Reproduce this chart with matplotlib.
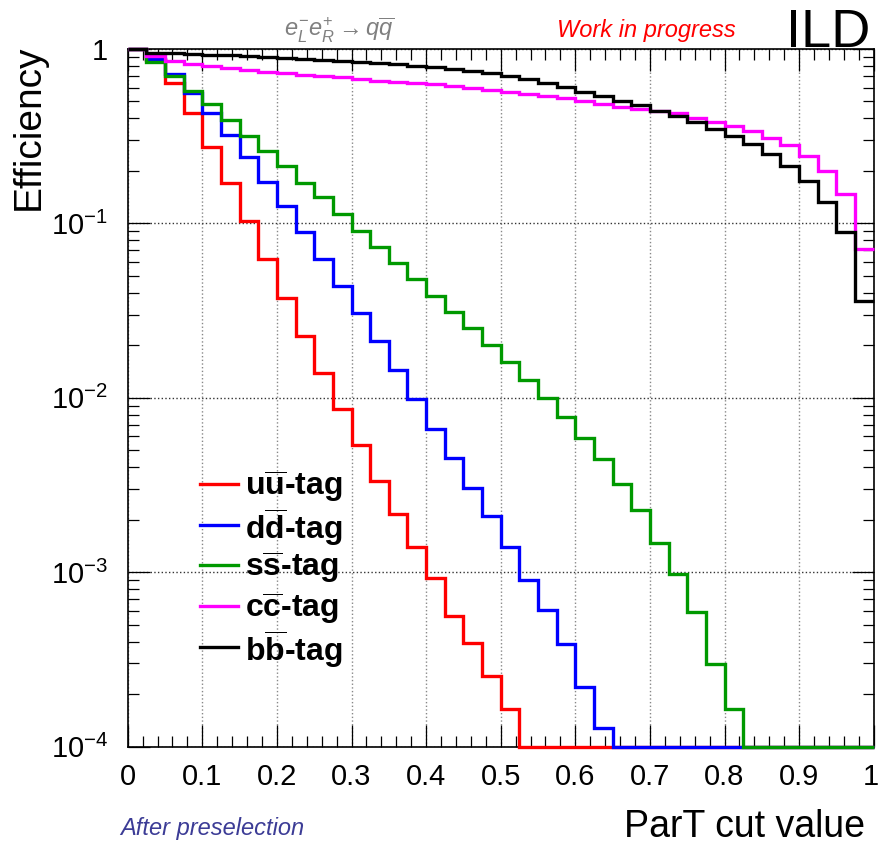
import numpy as np
import matplotlib
matplotlib.use("Agg")
import matplotlib.pyplot as plt
import matplotlib.transforms as mtransforms
from matplotlib.lines import Line2D
from matplotlib.ticker import FixedLocator, FixedFormatter, MultipleLocator, NullFormatter

plt.rcParams['font.family'] = ['Liberation Sans', 'DejaVu Sans']
plt.rcParams['mathtext.fontset'] = 'custom'
plt.rcParams['mathtext.rm'] = 'Liberation Sans'
plt.rcParams['mathtext.it'] = 'Liberation Sans:italic'
plt.rcParams['mathtext.bf'] = 'Liberation Sans:bold'

# bin edges of the ParT cut value (0 .. 1, 40 bins)
edges = np.linspace(0.0, 1.0, 41)

eff_u = [1.0, 0.87, 0.636, 0.428, 0.273, 0.170, 0.1035, 0.0625, 0.0375, 0.0226,
         0.0139, 0.0086, 0.00536, 0.00333, 0.00215, 0.0014, 9.2e-4, 5.63e-4, 3.9e-4, 2.54e-4,
         1.64e-4, 0, 0, 0, 0, 0, 0, 0, 0, 0,
         0, 0, 0, 0, 0, 0, 0, 0, 0, 0]
eff_d = [1.0, 0.876, 0.716, 0.557, 0.431, 0.320, 0.239, 0.173, 0.126, 0.0895,
         0.0625, 0.0438, 0.0308, 0.0211, 0.0144, 0.00984, 0.00665, 0.00454, 0.00305, 0.00211,
         0.00139, 9.06e-4, 6.04e-4, 3.86e-4, 2.19e-4, 1.27e-4, 0, 0, 0, 0,
         0, 0, 0, 0, 0, 0, 0, 0, 0, 0]
eff_s = [1.0, 0.839, 0.700, 0.577, 0.482, 0.392, 0.318, 0.260, 0.212, 0.170,
         0.141, 0.113, 0.0907, 0.0734, 0.0595, 0.0478, 0.0384, 0.0312, 0.0252, 0.0200,
         0.0161, 0.01265, 0.00993, 0.00773, 0.00586, 0.00448, 0.00319, 0.00228, 0.00147, 9.77e-4,
         5.89e-4, 2.98e-4, 1.64e-4, 0, 0, 0, 0, 0, 0, 0]
eff_c = [1.0, 0.915, 0.853, 0.820, 0.799, 0.778, 0.758, 0.738, 0.726, 0.712,
         0.700, 0.688, 0.670, 0.658, 0.649, 0.636, 0.627, 0.613, 0.600, 0.582,
         0.569, 0.552, 0.540, 0.526, 0.505, 0.484, 0.463, 0.455, 0.443, 0.428,
         0.404, 0.383, 0.362, 0.340, 0.308, 0.281, 0.244, 0.200, 0.147, 0.0713]
eff_b = [1.0, 0.952, 0.944, 0.936, 0.928, 0.920, 0.912, 0.900, 0.892, 0.880,
         0.870, 0.858, 0.842, 0.828, 0.817, 0.803, 0.785, 0.768, 0.748, 0.726,
         0.700, 0.670, 0.636, 0.603, 0.569, 0.540, 0.503, 0.477, 0.443, 0.413,
         0.383, 0.348, 0.317, 0.284, 0.249, 0.213, 0.175, 0.133, 0.0895, 0.036]

labels = [r'$\mathbf{u\overline{u}}$-tag', r'$\mathbf{d\overline{d}}$-tag',
          r'$\mathbf{s\overline{s}}$-tag', r'$\mathbf{c\overline{c}}$-tag',
          r'$\mathbf{b\overline{b}}$-tag']
colors = ['#ff0000', '#0000ff', '#009900', '#ff00ff', '#000000']
series = [eff_u, eff_d, eff_s, eff_c, eff_b]
xticks = ['0', '0.1', '0.2', '0.3', '0.4', '0.5', '0.6', '0.7', '0.8', '0.9', '1']
yticks = [r'$10^{-4}$', r'$10^{-3}$', r'$10^{-2}$', r'$10^{-1}$', '1']

ymin, ymax = 1e-4, 1.0
W, H = 879, 846

fig = plt.figure(figsize=(W / 100, H / 100), dpi=100)
ax = fig.add_axes([127.7 / W, 1 - 746.5 / H, 746 / W, 697.5 / H])

for vals, col in zip(series, colors):
    v = np.clip(np.array(vals, dtype=float), ymin, None)
    ax.stairs(v, edges, baseline=None, color=col, lw=2.4, clip_on=False, zorder=3)

ax.set_yscale('log')
ax.set_xlim(0, 1)
ax.set_ylim(ymin, ymax)

ax.xaxis.set_major_locator(FixedLocator(np.linspace(0, 1, 11)))
ax.xaxis.set_major_formatter(FixedFormatter(xticks))
ax.xaxis.set_minor_locator(MultipleLocator(0.02))
ax.yaxis.set_major_locator(FixedLocator([1e-4, 1e-3, 1e-2, 1e-1, 1]))
ax.yaxis.set_major_formatter(FixedFormatter(yticks))
ax.yaxis.set_minor_formatter(NullFormatter())

ax.tick_params(which='both', direction='in', top=True, right=True, width=0.9)
ax.tick_params(axis='x', which='major', length=16, labelsize=21, pad=12)
ax.tick_params(axis='y', which='major', length=16, labelsize=21, pad=14)
ax.tick_params(which='minor', length=8)
last = ax.get_xticklabels()[-1]
last.set_transform(last.get_transform() + mtransforms.ScaledTranslation(-3 / 100, 0, fig.dpi_scale_trans))
for s in ax.spines.values():
    s.set_linewidth(1.2)

ax.grid(True, axis='x', which='major', linestyle=':', color='#888888', lw=1.0)
ax.grid(True, axis='y', which='major', linestyle=':', color='#333333', lw=1.0)

# legend, rows placed like the ROOT TLegend
rows_y = [484, 525, 565, 606, 647]
for lab, col, yy in zip(labels, colors, rows_y):
    fig.add_artist(Line2D([200 / W, 238 / W], [1 - yy / H, 1 - yy / H], color=col, lw=2.4))
    fig.text(245 / W, 1 - (yy + 2) / H, lab, ha='left', va='center',
             fontsize=23, fontweight='bold')

fig.text(29 / W, 1 - 45 / H, 'Efficiency', rotation=90, ha='center', va='top', fontsize=28)
fig.text(865 / W, 1 - 837 / H, 'ParT cut value', ha='right', va='baseline', fontsize=27)
fig.text(120 / W, 1 - 828 / H, 'After preselection', ha='left', va='center',
         fontsize=17, style='italic', color='#3c3c96')
fig.text(339 / W, 1 - 30 / H, r'$e^{-}_{L}e^{+}_{R} \rightarrow q\overline{q}$',
         ha='center', va='center', fontsize=17, color='#808080')
fig.text(646 / W, 1 - 30 / H, 'Work in progress', ha='center', va='center',
         fontsize=17, style='italic', color='#ff0000')
fig.text(870 / W, 1 - 47 / H, 'ILD', ha='right', va='baseline', fontsize=39)

fig.savefig('out.png', dpi=100)
